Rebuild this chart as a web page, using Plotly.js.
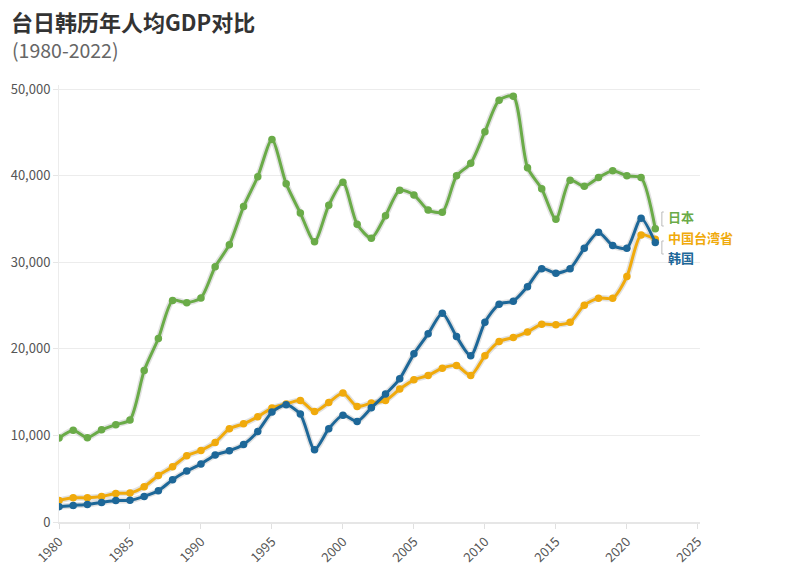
<!DOCTYPE html>
<html>
<head>
<meta charset="utf-8">
<script src="https://cdn.plot.ly/plotly-3.0.1.min.js"></script>
<style>html,body{margin:0;padding:0;background:#fff;}#chart{width:796px;height:575px;}</style>
</head>
<body>
<div id="chart"></div>
<script>
var years = [];
for (var y = 1980; y <= 2022; y++) years.push(y);

var japan = [9700, 10600, 9750, 10650, 11250, 11800, 17500, 21200, 25600, 25350, 25900,
  29500, 32050, 36450, 39900, 44200, 39100, 35700, 32400, 36600, 39250,
  34400, 32800, 35400, 38350, 37800, 36050, 35800, 40000, 41450, 45100,
  48750, 49200, 40950, 38500, 35000, 39500, 38800, 39800, 40600, 40000,
  39800, 33900];
var taiwan = [2480, 2790, 2790, 2950, 3300, 3350, 4080, 5380, 6390, 7660, 8270,
  9200, 10770, 11350, 12160, 13160, 13650, 14040, 12770, 13800, 14900,
  13350, 13750, 14040, 15360, 16430, 16930, 17780, 18080, 16930, 19200,
  20850, 21320, 21970, 22860, 22780, 23090, 25060, 25870, 25870, 28360,
  33180, 32680];
var korea = [1770, 1920, 2030, 2260, 2490, 2500, 2960, 3610, 4880, 5890, 6700,
  7740, 8230, 8960, 10460, 12700, 13550, 12470, 8350, 10770, 12350,
  11620, 13200, 14780, 16550, 19430, 21740, 24130, 21430, 19200, 23090,
  25170, 25520, 27200, 29280, 28750, 29280, 31640, 33490, 31940, 31640,
  35100, 32290];

var seriesNames = ['日本', '中国台湾省', '韩国'];
var seriesData = [japan, taiwan, korea];
var seriesColors = ['#6aab48', '#f0aa0c', '#1d6798'];

var FONT = 'Noto Sans CJK SC, Noto Sans, sans-serif';
var traces = [];
for (var i = 0; i < seriesData.length; i++) {
  traces.push({
    x: years, y: seriesData[i], type: 'scatter', mode: 'lines',
    line: {color: 'rgba(120,120,120,0.22)', width: 6, shape: 'spline', smoothing: 0.7},
    hoverinfo: 'skip', showlegend: false
  });
}
for (var i = 0; i < seriesData.length; i++) {
  traces.push({
    x: years, y: seriesData[i], type: 'scatter', mode: 'lines+markers',
    name: seriesNames[i],
    line: {color: seriesColors[i], width: 3, shape: 'spline', smoothing: 0.7},
    marker: {color: seriesColors[i], size: 7.5},
    showlegend: false
  });
}

var PH = 437;
function py(pix) { return (522 - pix) / PH; }
var annotations = [
  {xref: 'paper', yref: 'paper', x: -0.074, xshift: -2, y: py(50), xanchor: 'left', yanchor: 'middle',
   text: '(1980-2022)', showarrow: false, font: {family: FONT, size: 19.5, color: '#666'}}
];
var labelY = [216, 237, 257];
for (var i = 0; i < seriesNames.length; i++) {
  annotations.push({
    xref: 'paper', yref: 'paper', x: 1.0, y: py(labelY[i]),
    xanchor: 'left', yanchor: 'middle', xshift: -34,
    text: '<b>' + seriesNames[i] + '</b>', showarrow: false,
    font: {family: FONT, size: 13, color: seriesColors[i]}
  });
}

function bracket(a, b) {
  return {type: 'path', xref: 'paper', yref: 'paper',
    path: 'M 0.9435,' + py(a) + ' L 0.9405,' + py(a) + ' L 0.9405,' + py(b) + ' L 0.9435,' + py(b),
    line: {color: '#bbb', width: 1}};
}
var shapes = [bracket(212, 226), bracket(241, 254)];

var layout = {
  width: 796, height: 575,
  margin: {l: 59, r: 96, t: 85, b: 53},
  paper_bgcolor: '#fff', plot_bgcolor: '#fff',
  font: {family: FONT, color: '#555'},
  title: {text: '<b>台日韩历年人均GDP对比</b>', x: 11/796, xanchor: 'left', xref: 'container',
          y: 1 - 23/575, yanchor: 'middle', yref: 'container',
          font: {family: FONT, size: 22, color: '#333'}},
  xaxis: {
    range: [1980, 2025.15], tickvals: [1980, 1985, 1990, 1995, 2000, 2005, 2010, 2015, 2020, 2025],
    tickangle: -45, showgrid: false, zeroline: false,
    showline: true, linecolor: '#e6e6e6', linewidth: 2,
    ticks: 'outside', ticklen: 5, tickcolor: '#e0e0e0', tickwidth: 1,
    tickfont: {family: FONT, size: 13, color: '#555'}
  },
  yaxis: {
    range: [0, 50500], tickvals: [0, 10000, 20000, 30000, 40000, 50000],
    ticktext: ['0', '10,000', '20,000', '30,000', '40,000', '50,000'],
    showgrid: true, gridcolor: '#ececec', gridwidth: 1, zeroline: false,
    showline: true, linecolor: '#ececec', linewidth: 1,
    ticks: 'outside', ticklen: 5, tickcolor: '#e6e6e6',
    tickfont: {family: FONT, size: 13, color: '#555'}
  },
  annotations: annotations,
  shapes: shapes,
  showlegend: false
};

Plotly.newPlot('chart', traces, layout, {displayModeBar: false, staticPlot: true});
</script>
</body>
</html>
